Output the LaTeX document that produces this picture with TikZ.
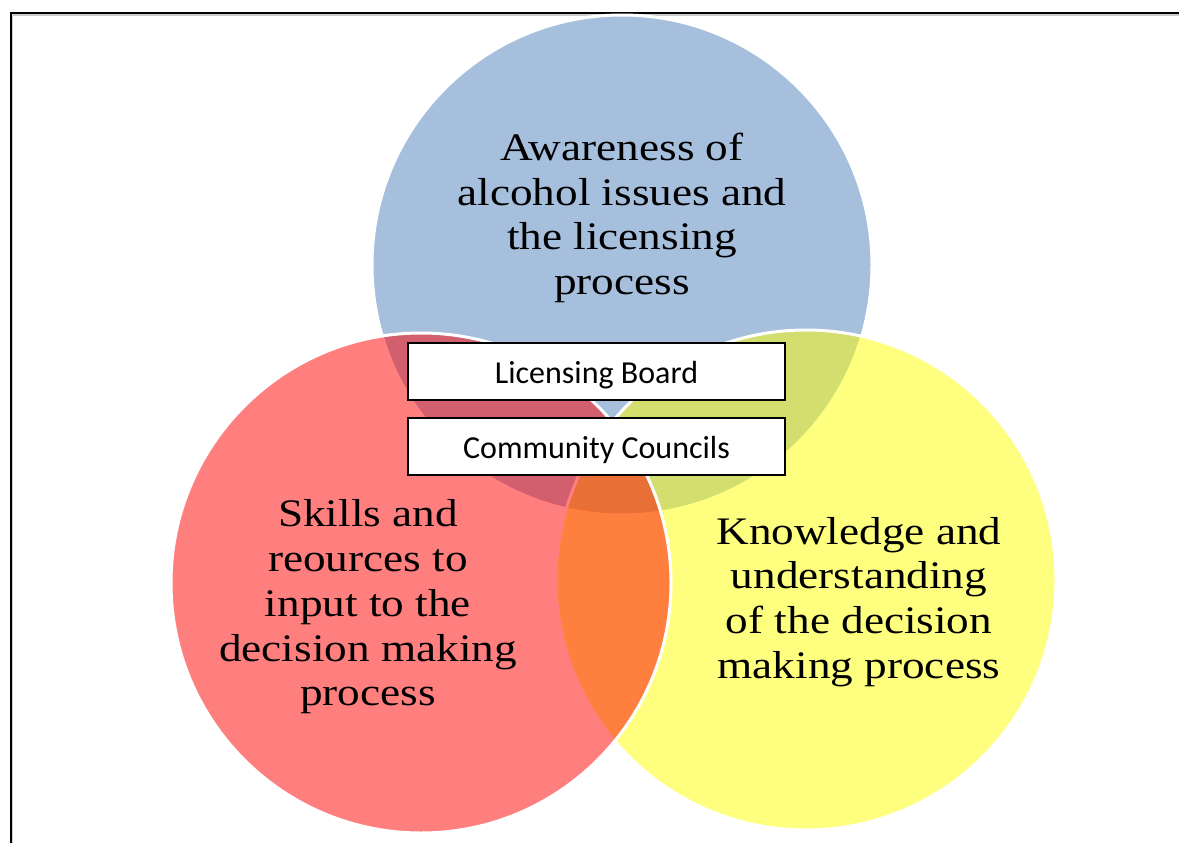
\documentclass[tikz,border=0pt]{standalone}
\usepackage{fontspec}
\setmainfont{Liberation Serif}
\newfontfamily\vennfont[FakeStretch=1.16]{Liberation Serif}
\newfontfamily\boxfont{Carlito}
\begin{document}
\begin{tikzpicture}[x=1pt,y=-1pt,
  venn/.style={circle,minimum size=500pt,inner sep=0pt,draw=white,line width=3pt,fill opacity=0.5,draw opacity=1},
  vtext/.style={align=center,font=\vennfont\fontsize{39}{44.7}\selectfont,text=black},
  label box/.style={draw=black,line width=2pt,fill=white,minimum width=377pt,minimum height=57pt,inner sep=0pt,text height=28pt,text depth=4pt,font=\boxfont\fontsize{32}{36}\selectfont}]
\useasboundingbox (0,0) rectangle (1179,843);
\fill[white] (0,0) rectangle (1179,843);
% frame
\draw[gray!40,line width=1.5pt] (12.5,15) -- (1179,15);
\draw[gray!40,line width=1.5pt] (12.5,15) -- (12.5,843);
\draw[black,line width=2pt] (11,13.5) -- (1179,13.5);
\draw[black,line width=2pt] (11,12.5) -- (11,843);
% circles
\node[venn,fill={rgb,255:red,79;green,129;blue,189}] (blue) at (622,265) {};
\node[venn,fill={rgb,255:red,255;green,255;blue,0}] (yellow) at (806,580) {};
\node[venn,fill={rgb,255:red,255;green,0;blue,0}] (red) at (421,583) {};
% texts
\node[vtext] (tblue) at (622,218) {Awareness of\\alcohol issues and\\the licensing\\process};
\node[vtext] (tred) at (368,607) {Skills and\\reources to\\input to the\\decision making\\process};
\node[vtext] (tyellow) at (859,602) {Knowledge and\\understanding\\of the decision\\making process};
% boxes
\node[label box] (lb) at (596.5,371) {Licensing Board};
\node[label box] (cc) at (596.5,446.5) {Community Councils};
\end{tikzpicture}
\end{document}
